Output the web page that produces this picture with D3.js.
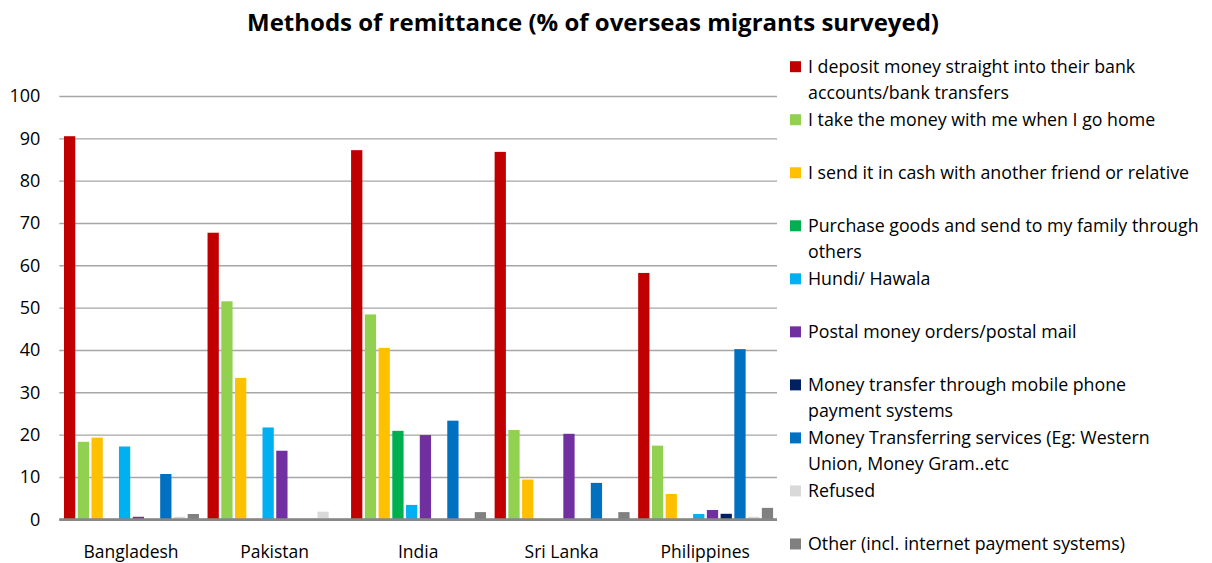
<!DOCTYPE html>
<html>
<head>
<meta charset="utf-8">
<script src="https://cdn.jsdelivr.net/npm/d3@7"></script>
<style>
  body { margin: 0; background: #fff; }
  text { font-family: "Open Sans", sans-serif; fill: #000; }
</style>
</head>
<body>
<svg id="chart" width="1212" height="563"></svg>
<script>
// chart data
const countries = ["Bangladesh", "Pakistan", "India", "Sri Lanka", "Philippines"];

const seriesNames = [
    "I deposit money straight into their bank\naccounts/bank transfers",
    "I take the money with me when I go home",
    "I send it in cash with another friend or relative",
    "Purchase goods and send to my family through\nothers",
    "Hundi/ Hawala",
    "Postal money orders/postal mail",
    "Money transfer through mobile phone\npayment systems",
    "Money Transferring services (Eg: Western\nUnion, Money Gram..etc",
    "Refused",
    "Other (incl. internet payment systems)"
];

const bankTransfer   = [90.5, 67.7, 87.2, 86.8, 58.2];
const takeHome       = [18.3, 51.5, 48.4, 21.1, 17.4];
const cashFriend     = [19.3, 33.4, 40.5,  9.4,  6.0];
const purchaseGoods  = [ 0,    0,   20.9,  0,    0  ];
const hundiHawala    = [17.2, 21.7,  3.4,  0,    1.25];
const postalOrders   = [ 0.6, 16.2, 19.9, 20.2,  2.2];
const mobilePayment  = [ 0,    0,    0,    0,    1.3];
const transferServ   = [10.7,  0,   23.3,  8.6, 40.2];
const refused        = [ 0.6,  1.8,  0,    0,    0.6];
const other          = [ 1.25, 0,    1.7,  1.7,  2.7];

const yTicks = [0, 10, 20, 30, 40, 50, 60, 70, 80, 90, 100];

const colors = ["#C00000", "#92D050", "#FFC000", "#00B050", "#00B0F0",
                "#7030A0", "#002060", "#0070C0", "#D9D9D9", "#808080"];

const seriesValues = [bankTransfer, takeHome, cashFriend, purchaseGoods, hundiHawala,
                      postalOrders, mobilePayment, transferServ, refused, other];

// layout
const plotLeft = 59.3, plotRight = 777, plotTop = 96, plotBottom = 519.3;

let svg = d3.select("#chart");

let x0 = d3.scaleBand()
    .domain(countries)
    .range([plotLeft, plotRight])
    .padding(0);

let x1 = d3.scaleBand()
    .domain(d3.range(seriesNames.length))
    .range([4.7, x0.bandwidth() - 3.9])
    .paddingInner(0.18)
    .paddingOuter(0);

let y = d3.scaleLinear()
    .domain([0, 100])
    .range([plotBottom, plotTop]);

// title
svg.append("text")
    .attr("x", 593)
    .attr("y", 31)
    .attr("text-anchor", "middle")
    .style("font-size", "24px")
    .style("font-weight", "bold")
    .text("Methods of remittance (% of overseas migrants surveyed)");

// gridlines + y labels
let yAxis = svg.append("g")
    .attr("transform", "translate(" + plotLeft + ",0)")
    .call(d3.axisLeft(y).tickValues(yTicks).tickSize(-(plotRight - plotLeft)).tickPadding(19));
yAxis.select(".domain").remove();
yAxis.selectAll(".tick line")
    .attr("stroke", d => d === 0 ? "#878787" : "#a6a6a6")
    .attr("stroke-width", d => d === 0 ? 2.2 : 1.4);
yAxis.selectAll(".tick text")
    .style("font-size", "18px")
    .style("font-family", "'Open Sans', sans-serif")
    .attr("fill", "#000");

// bars
let table = [];
countries.forEach(function(c, ci) {
    seriesValues.forEach(function(vals, si) {
        if (vals[ci] > 0) table.push({country: c, series: si, value: vals[ci]});
    });
});

svg.append("g")
    .selectAll("rect")
    .data(table)
    .join("rect")
    .attr("x", d => x0(d.country) + x1(d.series))
    .attr("width", x1.bandwidth())
    .attr("y", d => y(d.value))
    .attr("height", d => y(0) - y(d.value))
    .attr("fill", d => colors[d.series]);

// redraw baseline over the bars
svg.append("line")
    .attr("x1", plotLeft).attr("x2", plotRight)
    .attr("y1", y(0)).attr("y2", y(0))
    .attr("stroke", "#878787")
    .attr("stroke-width", 2.2);

// category labels
svg.append("g")
    .selectAll("text")
    .data(countries)
    .join("text")
    .attr("x", d => x0(d) + x0.bandwidth() / 2)
    .attr("y", 557.5)
    .attr("text-anchor", "middle")
    .style("font-size", "17.5px")
    .text(d => d);

// legend
let legend = svg.append("g");
seriesNames.forEach(function(name, i) {
    let cy = 66.7 + i * 53.03;
    legend.append("rect")
        .attr("x", 790)
        .attr("y", cy - 5.5)
        .attr("width", 11)
        .attr("height", 11)
        .attr("fill", colors[i]);
    name.split("\n").forEach(function(line, li) {
        legend.append("text")
            .attr("x", 808)
            .attr("y", cy + 6 + li * 26)
            .style("font-size", "17.8px")
            .text(line);
    });
});
</script>
</body>
</html>
